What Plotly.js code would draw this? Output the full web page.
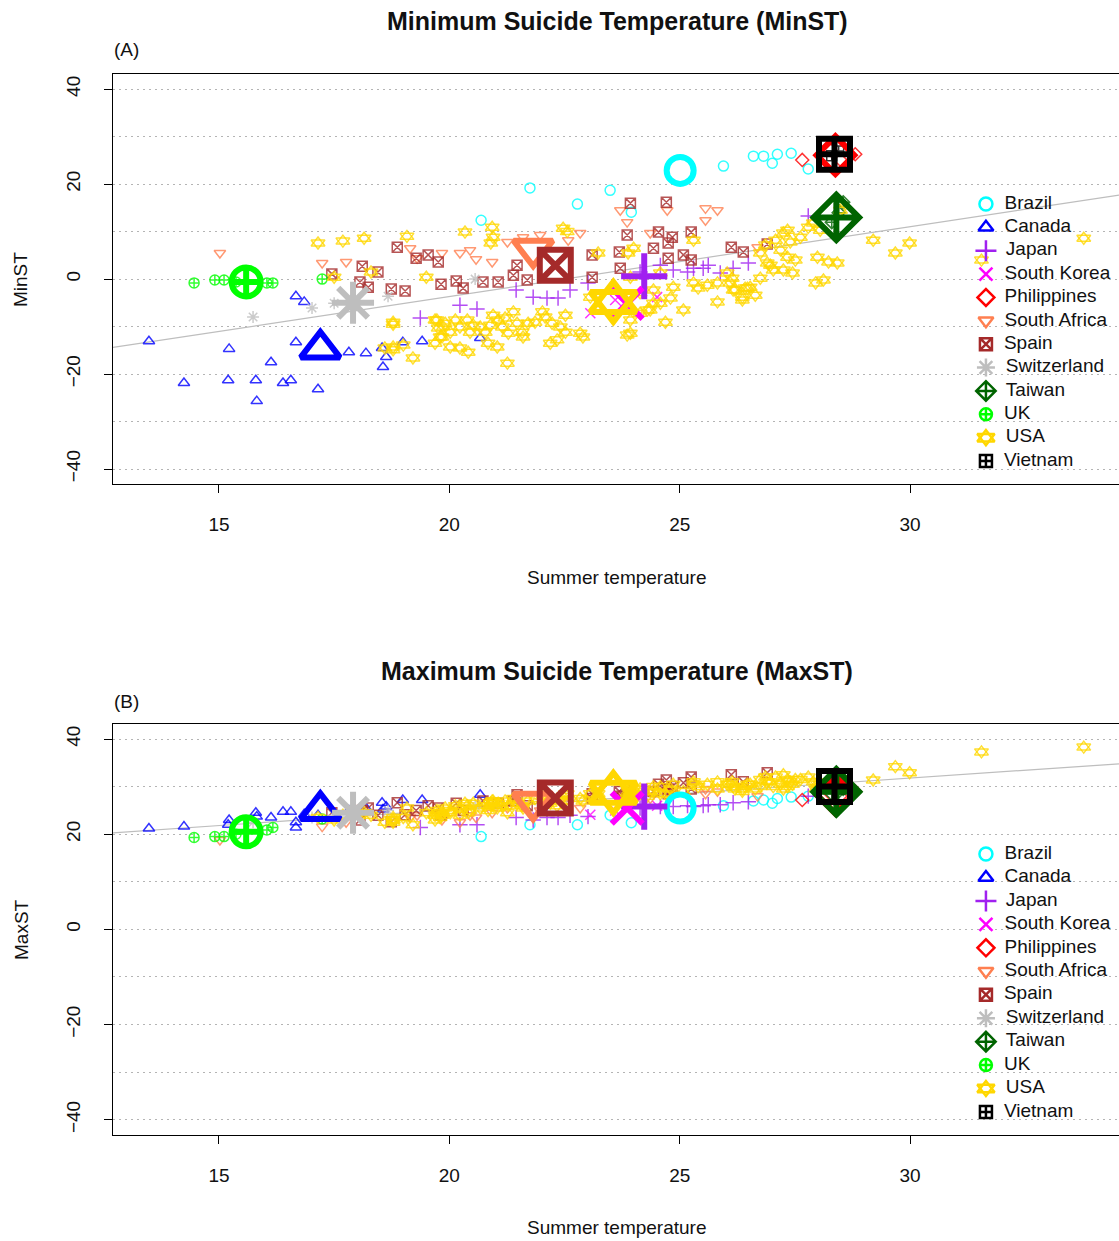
<!DOCTYPE html>
<html>
<head>
<meta charset="utf-8">
<script src="https://cdn.plot.ly/plotly-3.0.1.min.js"></script>
<style>html,body{margin:0;padding:0;background:#fff}#chart{width:1119px;height:1241px}</style>
</head>
<body>
<div id="chart"></div>
<script>
// ---------------- DATA ----------------
const countries = ['Brazil','Canada','Japan','South Korea','Philippines','South Africa','Spain','Switzerland','Taiwan','UK','USA','Vietnam'];

const brazilX   = [20.69, 21.75, 22.78, 23.49, 23.95, 25.95, 26.6, 26.82, 27.01, 27.12, 27.42, 27.79];
const brazilMin = [12.4, 19.2, 15.8, 18.7, 14.1, 23.8, 25.9, 25.9, 24.4, 26.3, 26.5, 23.2];
const brazilMax = [19.5, 22.0, 22.0, 24.0, 22.4, 26.0, 27.0, 27.2, 26.5, 27.5, 27.8, 28.0];

const canadaX   = [13.48,14.24,15.22,15.2,15.8,15.82,16.13,16.39,16.56,16.67,16.85,16.67,17.15,17.82,18.19,18.54,18.63,18.56,18.99,19.41,20.67];
const canadaMin = [-13.1,-21.9,-14.7,-21.3,-21.3,-25.7,-17.5,-21.9,-21.3,-3.6,-4.8,-13.3,-23.2,-15.4,-15.6,-14.5,-16.4,-18.5,-13.3,-13.1,-12.4];
const canadaMax = [21.2,21.6,23.0,22.0,24.5,23.7,23.5,24.7,24.7,21.4,24.2,22.5,24.0,25.0,25.5,26.6,25.8,25.2,27.2,27.2,28.3];

const japanX   = [19.37,20.23,20.6,21.45,21.82,22.12,22.36,22.62,23.01,24.14,24.58,24.86,25.17,25.3,25.51,25.62,25.88,26.16,26.49,27.79];
const japanMin = [-8.2,-5.5,-6.3,-2.3,-3.8,-4.0,-4.0,-2.3,-0.8,1.5,2.9,1.9,1.5,2.3,2.3,2.9,1.3,2.3,3.4,13.3];
const japanMax = [21.4,22.0,22.0,23.5,23.0,23.5,23.5,24.0,23.7,25.5,25.8,25.8,26.0,25.8,26.0,26.2,26.2,26.6,26.8,28.0];

const koreaX   = [23.06, 23.6, 23.82, 24.51];
const koreaMin = [-7.2, -4.4, -6.5, -3.8];
const koreaMax = [24.1, 25.0, 25.5, 26.0];

const philX   = [27.66, 28.27, 28.49, 28.81];
const philMin = [25.1, 27.2, 25.1, 26.3];
const philMax = [27.2, 28.5, 28.0, 29.0];

const saX   = [15.02,17.24,17.76,19.15,19.3,19.84,20.23,20.45,20.58,20.93,21.26,21.6,21.97,22.58,22.84,23.71,23.86,24.36,24.73,25.56,25.82,25.56,26.69];
const saMin = [5.5,3.4,3.6,6.5,4.4,5.5,5.5,6.1,4.2,3.6,7.8,8.8,9.3,8.2,9.7,14.5,12.0,9.7,14.5,14.9,14.5,12.4,6.7];
const saMax = [18.8,21.6,22.5,23.5,24.0,23.0,22.5,24.0,23.5,24.5,25.5,26.0,25.0,26.5,25.5,28.0,27.0,27.5,29.0,29.5,29.0,28.5,28.0];

const spainX   = [17.45,18.11,18.45,18.06,18.24,18.74,19.04,18.87,19.28,19.54,19.76,19.82,20.15,20.3,20.73,21.06,21.39,21.47,21.69,23.1,23.1,23.69,23.71,23.93,23.86,24.54,24.43,24.71,24.84,24.75,24.75,25.08,25.25,25.25,26.12,26.38,26.9];
const spainMin = [1.1,2.7,1.5,-0.6,-1.7,-2.1,-2.5,6.7,4.4,5.1,3.6,-1.1,-0.4,-1.9,-0.6,-0.6,0.8,2.9,-0.2,0.4,5.1,5.7,2.3,16.0,9.3,9.9,6.5,16.2,8.8,7.6,4.4,5.1,9.9,4.0,6.7,5.7,7.4];
const spainMax = [24.5,25.0,24.0,23.0,25.5,22.6,24.1,26.6,25.0,26.0,25.5,24.0,26.5,25.0,27.0,26.5,27.0,28.3,26.0,28.5,27.5,29.0,28.0,30.0,29.5,30.5,29.0,31.4,30.0,29.5,28.5,30.8,32.0,29.5,32.5,31.0,32.9];

const swissX   = [15.74, 17.02, 17.5, 18.67, 20.56];
const swissMin = [-8.0, -6.1, -5.1, -3.6, 0.0];
const swissMax = [22.5, 23.5, 24.0, 25.0, 26.0];

const taiwanX   = [28.3, 28.45, 28.55];
const taiwanMin = [12.0, 14.0, 16.2];
const taiwanMax = [28.5, 29.0, 29.5];

const ukX   = [14.46,14.91,15.11,15.37,16.04,16.17,17.24];
const ukMin = [-0.8,-0.2,-0.2,-0.6,-0.8,-0.8,0.0];
const ukMax = [19.3,19.5,19.5,20.0,20.9,21.4,23.2];

const usaX = [17.15,17.69,18.15,19.08,20.34,20.93,20.95,20.9,22.47,22.56,23.23,23.88,25.3,24.0,
  18.3,17.5,19.5,
  18.78,19.69,19.87,19.8,18.78,19.21,19.69,
  19.73,19.76,19.84,19.91,20.02,20.13,20.23,20.39,20.45,20.52,20.67,20.78,20.89,20.95,21.06,21.15,21.21,21.28,21.39,21.47,21.58,21.6,21.71,21.86,22.02,22.08,22.23,22.34,22.41,22.52,22.52,20.02,20.23,20.41,20.84,21.04,21.26,22.19,18.78,18.78,19.0,18.6,
  22.9,23.86,23.93,24.43,24.8,25.08,25.4,25.6,25.82,26.16,26.36,26.47,24.69,24.14,24.43,24.86,25.3,25.82,26.1,23.93,24.58,24.14,24.3,23.06,22.84,23.93,24.36,24.58,26.14,
  26.03,26.2,26.42,26.36,26.53,26.75,26.9,27.08,27.25,27.34,27.4,27.19,27.34,27.03,27.25,27.45,27.62,27.79,27.9,28.05,27.95,28.12,27.99,28.23,28.42,28.49,29.2,29.68,29.99,33.77,31.55,26.97,27.51,26.75,26.64,26.86];
const usaMin = [7.6,8.0,8.6,9.0,9.9,10.9,8.8,7.6,10.7,10.0,5.5,5.5,8.2,6.5,
  1.5,0.4,0.4,
  -9.5,-8.6,-10.1,-12.2,-14.3,-16.6,-13.5,
  -8.6,-10.3,-12.2,-9.3,-11.2,-8.6,-10.1,-8.6,-11.2,-9.7,-10.1,-11.2,-9.7,-7.6,-8.6,-10.1,-8.2,-11.4,-6.9,-9.3,-11.2,-12.2,-9.3,-9.1,-6.9,-8.0,-9.3,-12.8,-10.1,-7.6,-11.2,-14.3,-14.5,-15.4,-13.5,-14.3,-17.7,-13.5,-9.1,-14.9,-13.9,-14.5,
  -12.2,-11.8,-8.6,-5.1,-4.0,-6.5,-1.9,-1.3,-4.8,-2.3,-3.8,-1.9,-9.1,-2.9,-2.3,-1.7,-0.8,-0.8,-0.8,0.4,1.3,-7.2,-6.5,-3.8,-11.4,-11.4,-6.5,-5.1,0.2,
  1.3,-2.3,-1.9,-4.4,-1.7,5.5,3.4,8.2,9.7,10.3,7.8,6.1,4.6,1.9,1.9,1.3,8.8,10.9,11.8,10.3,-0.8,-0.2,4.6,3.6,3.4,14.5,8.2,5.5,7.6,8.6,4.0,2.9,4.0,0.2,-3.4,7.2];
const usaMax = [23.5,24.0,24.5,25.5,26.5,27.0,26.5,26.0,28.0,28.5,28.5,29.0,30.5,29.5,
  24.0,23.0,24.5,
  23.0,24.0,24.5,23.5,22.5,22.0,23.0,
  25.0,24.5,24.0,25.5,25.0,26.0,25.5,26.0,25.0,26.5,25.5,26.0,26.5,27.0,26.5,26.0,27.0,26.0,27.5,26.5,26.0,25.5,27.0,27.5,28.0,27.0,27.5,26.0,27.0,28.5,27.0,24.5,24.0,24.5,25.0,25.5,24.5,26.5,23.5,23.0,23.5,22.5,
  27.0,27.5,28.0,29.0,29.5,29.0,30.0,30.5,29.5,30.0,29.5,30.5,28.5,29.5,30.0,30.5,31.0,31.0,30.5,29.0,30.0,28.5,28.0,28.5,27.5,28.0,29.0,28.5,31.0,
  30.5,29.5,30.0,29.0,30.5,31.5,31.0,32.0,32.5,31.5,31.0,30.5,30.0,30.0,29.5,30.5,31.5,32.0,31.0,30.5,29.5,30.0,30.5,31.0,30.5,31.5,31.4,34.2,32.9,38.3,37.3,31.0,31.5,30.0,29.5,32.0];

const vietX   = [28.3, 28.45];
const vietMin = [26.0, 27.0];
const vietMax = [30.5, 29.5];

// country means
const meanX   = [25.01, 17.2, 24.23, 23.86, 28.38, 21.82, 22.3, 17.91, 28.4, 15.59, 23.56, 28.36];
const meanMin = [22.9, -14.7, 0.6, -5.1, 26.1, 6.3, 2.9, -5.0, 13.0, -0.6, -4.8, 26.3];
const meanMax = [25.5, 25.0, 25.8, 25.5, 28.3, 26.7, 27.6, 24.5, 28.9, 20.5, 28.7, 30.0];

// regression lines
const lineX    = [12.7, 34.535];
const lineMinY = [-14.4, 17.7];
const lineMaxY = [20.3, 34.8];

const legendIdx = [0,1,2,3,4,5,6,7,8,9,10,11];
const USA = 10;

// ---------------- STYLE ----------------
const colors  = ['#00FFFF','#0000FF','#A020F0','#FF00FF','#FF0000','#FF7F50','#A52A2A','#BEBEBE','#006400','#00FF00','#FFD700','#000000'];
// USA (R pch 11) = up triangle + down triangle superimposed
const symbols = ['circle-open','triangle-up-open','cross-thin-open','x-thin-open','diamond-open','triangle-down-open','square-x-open','asterisk-open','diamond-cross-open','circle-cross-open','triangle-up-open','square-cross-open'];
const smallSizes = [10,10,11,10,10,10,10,10,10,10,12,10];
const bigSizes   = [27,34,33,31,29,34,31,35,35,29,40,31];
const legendSizes= [13,13,15,13,13,13,12,15,15,12,15,12];

const xs   = [brazilX,canadaX,japanX,koreaX,philX,saX,spainX,swissX,taiwanX,ukX,usaX,vietX];
const mins = [brazilMin,canadaMin,japanMin,koreaMin,philMin,saMin,spainMin,swissMin,taiwanMin,ukMin,usaMin,vietMin];
const maxs = [brazilMax,canadaMax,japanMax,koreaMax,philMax,saMax,spainMax,swissMax,taiwanMax,ukMax,usaMax,vietMax];

const FONT = 'Liberation Sans, Arial, Helvetica, sans-serif';
const traces = [];
[['x','y',lineMinY,mins,meanMin,'x3','y3'],['x2','y2',lineMaxY,maxs,meanMax,'x4','y4']].forEach(p => {
  const [xa, ya, ly, ys, my, lxa, lya] = p;
  traces.push({x: lineX, y: ly, xaxis: xa, yaxis: ya, mode: 'lines', line: {color: '#BEBEBE', width: 1.2}, hoverinfo: 'skip', showlegend: false});
  countries.forEach((c, i) => {
    const mk = {symbol: symbols[i], color: colors[i], size: smallSizes[i], opacity: 0.8, line: {width: 1.5}};
    traces.push({x: xs[i], y: ys[i], xaxis: xa, yaxis: ya, mode: 'markers', name: c, showlegend: false, marker: mk});
    if (i === USA) {
      traces.push({x: xs[i], y: ys[i], xaxis: xa, yaxis: ya, mode: 'markers', name: c, showlegend: false,
        marker: Object.assign({}, mk, {symbol: 'triangle-down-open'})});
    }
  });
  traces.push({x: meanX, y: my, xaxis: xa, yaxis: ya, mode: 'markers', showlegend: false,
    marker: {symbol: symbols, color: colors, size: bigSizes, opacity: 1, line: {width: 6}}});
  traces.push({x: [meanX[USA]], y: [my[USA]], xaxis: xa, yaxis: ya, mode: 'markers', showlegend: false,
    marker: {symbol: 'triangle-down-open', color: colors[USA], size: bigSizes[USA], opacity: 1, line: {width: 6}}});
  traces.push({x: legendIdx.map(() => 0), y: legendIdx, text: countries.map(c => '\u2002' + c), xaxis: lxa, yaxis: lya,
    mode: 'markers+text', textposition: 'middle right', showlegend: false, cliponaxis: false,
    textfont: {family: FONT, size: 19, color: '#111'},
    marker: {symbol: symbols, color: colors, size: legendSizes, opacity: 1, line: {width: 2.5}}});
  traces.push({x: [0], y: [legendIdx[USA]], xaxis: lxa, yaxis: lya, mode: 'markers', showlegend: false, cliponaxis: false,
    marker: {symbol: 'triangle-down-open', color: colors[USA], size: legendSizes[USA], opacity: 1, line: {width: 2.5}}});
});

function xax(anchor) {
  return {anchor: anchor, domain: [0, 1], range: [12.7, 34.535], tick0: 0, dtick: 5, ticks: 'outside', ticklen: 8,
    tickcolor: '#000', showline: true, mirror: true, linecolor: '#000', linewidth: 1, showgrid: false, zeroline: false,
    tickfont: {family: FONT, size: 19, color: '#111'}, ticklabelstandoff: 15, fixedrange: true};
}
function yax(anchor, dom) {
  return {anchor: anchor, domain: dom, range: [-43.2, 43.2], tick0: 0, dtick: 20, ticks: 'outside', ticklen: 8,
    tickcolor: '#000', tickangle: -90, showline: true, mirror: false, linecolor: '#000', linewidth: 1, zeroline: false,
    tickfont: {family: FONT, size: 19, color: '#111'}, ticklabelstandoff: 16, fixedrange: true,
    showgrid: true, gridcolor: '#b4b4b4', griddash: '2px,4px', gridwidth: 1,
    minor: {dtick: 10, showgrid: true, gridcolor: '#b4b4b4', griddash: '2px,4px', gridwidth: 1, ticks: ''}};
}
const hidden = {showgrid: false, zeroline: false, showticklabels: false, showline: false, ticks: '', fixedrange: true};

const H = 1061, T = 74;
const py = v => (1135 - v) / H;         // pixel row -> paper y
const px = v => (v - 113) / 1006;       // pixel col -> paper x

const ann = (text, x, y, size, extra) => Object.assign({text: text, xref: 'paper', yref: 'paper', x: px(x), y: py(y), showarrow: false,
  xanchor: 'center', yanchor: 'middle', font: {size: size, family: FONT, color: '#111'}}, extra || {});

const layout = {
  width: 1119, height: 1241, margin: {l: 113, r: 0, t: T, b: 106},
  paper_bgcolor: '#fff', plot_bgcolor: 'rgba(0,0,0,0)', showlegend: false,
  font: {family: FONT, color: '#111'},
  xaxis: xax('y'), yaxis: yax('x', [py(484.2), 1]),
  xaxis2: xax('y2'), yaxis2: yax('x2', [0, py(723.8)]),
  xaxis3: Object.assign({anchor: 'y3', domain: [px(918), 1], range: [-0.338, 0.662]}, hidden),
  yaxis3: Object.assign({anchor: 'x3', domain: [py(472.7), py(192.3)], range: [11.5, -0.5]}, hidden),
  xaxis4: Object.assign({anchor: 'y4', domain: [px(918), 1], range: [-0.338, 0.662]}, hidden),
  yaxis4: Object.assign({anchor: 'x4', domain: [py(1123.7), py(842.3)], range: [11.5, -0.5]}, hidden),
  annotations: [
    ann('<b>Minimum Suicide Temperature (MinST)</b>', 617, 21, 25),
    ann('<b>Maximum Suicide Temperature (MaxST)</b>', 617, 671, 25),
    ann('(A)', 126, 50, 19),
    ann('(B)', 126, 701, 19),
    ann('Summer temperature', 617, 577, 19),
    ann('Summer temperature', 617, 1227, 19),
    ann('MinST', 21, 280, 19, {textangle: -90}),
    ann('MaxST', 21, 930, 19, {textangle: -90})
  ]
};

Plotly.newPlot('chart', traces, layout, {staticPlot: true, displayModeBar: false});
</script>
</body>
</html>
